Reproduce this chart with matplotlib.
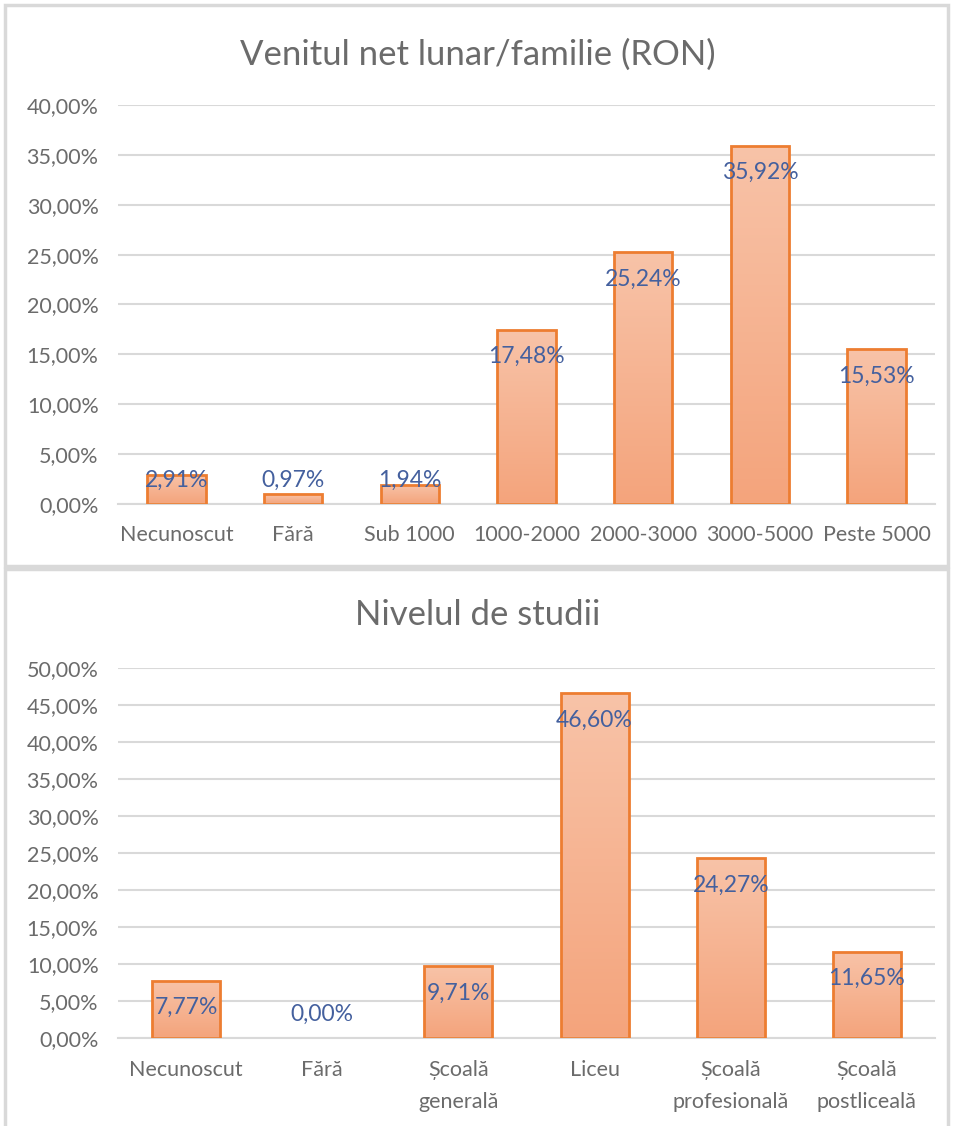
import matplotlib.pyplot as plt
import numpy as np
from matplotlib.patches import Rectangle
from matplotlib.colors import LinearSegmentedColormap

plt.rcParams['font.family'] = ['Lato', 'DejaVu Sans']

# data
venit_cat = ["Necunoscut", "Fără", "Sub 1000", "1000-2000", "2000-3000", "3000-5000", "Peste 5000"]
venit_val = [2.91, 0.97, 1.94, 17.48, 25.24, 35.92, 15.53]

studii_cat = ["Necunoscut", "Fără", "Școală\ngenerală", "Liceu", "Școală\nprofesională", "Școală\npostliceală"]
studii_val = [7.77, 0.00, 9.71, 46.60, 24.27, 11.65]

W, H = 955, 1126
fig = plt.figure(figsize=(W / 100, H / 100), dpi=100)

edge = "#ED7D31"
grid = "#D9D9D9"
txt = "#6B6B6B"
lab = "#44609E"

# gradient for the bar fill (top light, bottom darker)
grad = np.linspace(0, 1, 100).reshape(-1, 1)
cmap = LinearSegmentedColormap.from_list("o", ["#F4A47C", "#F8C3A8"])


def box(y0, y1):
    r = Rectangle((5 / W, 1 - y1 / H), 943 / W, (y1 - y0) / H, transform=fig.transFigure,
                  fill=False, edgecolor=grid, lw=2.5, zorder=0)
    fig.patches.append(r)


def chart(cats, vals, top_px, base_px, ymax, title, title_y, xpad):
    ax = fig.add_axes([118 / W, 1 - base_px / H, (935 - 118) / W, (base_px - top_px) / H])
    x = np.arange(len(cats))
    bars = ax.bar(x, vals, width=0.5, color="none", edgecolor=edge, linewidth=2, zorder=3)
    for b in bars:
        if b.get_height() <= 0:
            b.set_linewidth(0)
            continue
        im = ax.imshow(grad, cmap=cmap, aspect="auto", origin="lower",
                       extent=[b.get_x(), b.get_x() + b.get_width(), 0, b.get_height()], zorder=2)
        im.set_clip_path(b)
    ax.set_xlim(-0.5, len(cats) - 0.5)
    ax.set_ylim(0, ymax)
    ticks = np.arange(0, ymax + 0.1, 5)
    ax.set_yticks(ticks)
    ax.set_yticklabels([("%.2f%%" % t).replace(".", ",") for t in ticks])
    ax.set_xticks(x)
    ax.set_xticklabels(cats, linespacing=1.75)
    ax.tick_params(length=0, colors=txt, labelsize=15.5)
    ax.tick_params(axis="x", pad=xpad)
    ax.tick_params(axis="y", pad=14)
    ax.grid(axis="y", color=grid, lw=1.5, zorder=0)
    for s in ["top", "right", "left"]:
        ax.spines[s].set_visible(False)
    ax.spines["bottom"].set_color(grid)
    ax.spines["bottom"].set_linewidth(1.5)
    ax.set_axisbelow(True)
    # data labels, inside end
    inv = ax.transData.inverted()
    for xi, v in zip(x, vals):
        px_top = ax.transData.transform((xi, v))[1]
        px_base = ax.transData.transform((xi, 0))[1]
        py = max(px_top - 27, px_base + 24)
        yv = inv.transform((0, py))[1]
        ax.text(xi, yv, ("%.2f%%" % v).replace(".", ","), ha="center", va="center",
                color=lab, fontsize=16.5, zorder=5)
    fig.text(0.5, 1 - title_y / H, title, ha="center", va="center", fontsize=25, color=txt)
    return ax


box(5, 566)
box(569, 1140)
chart(venit_cat, venit_val, 105, 504, 40, "Venitul net lunar/familie (RON)", 55, 15)
chart(studii_cat, studii_val, 668, 1038, 50, "Nivelul de studii", 615, 16)

fig.savefig("out.png", dpi=100)
